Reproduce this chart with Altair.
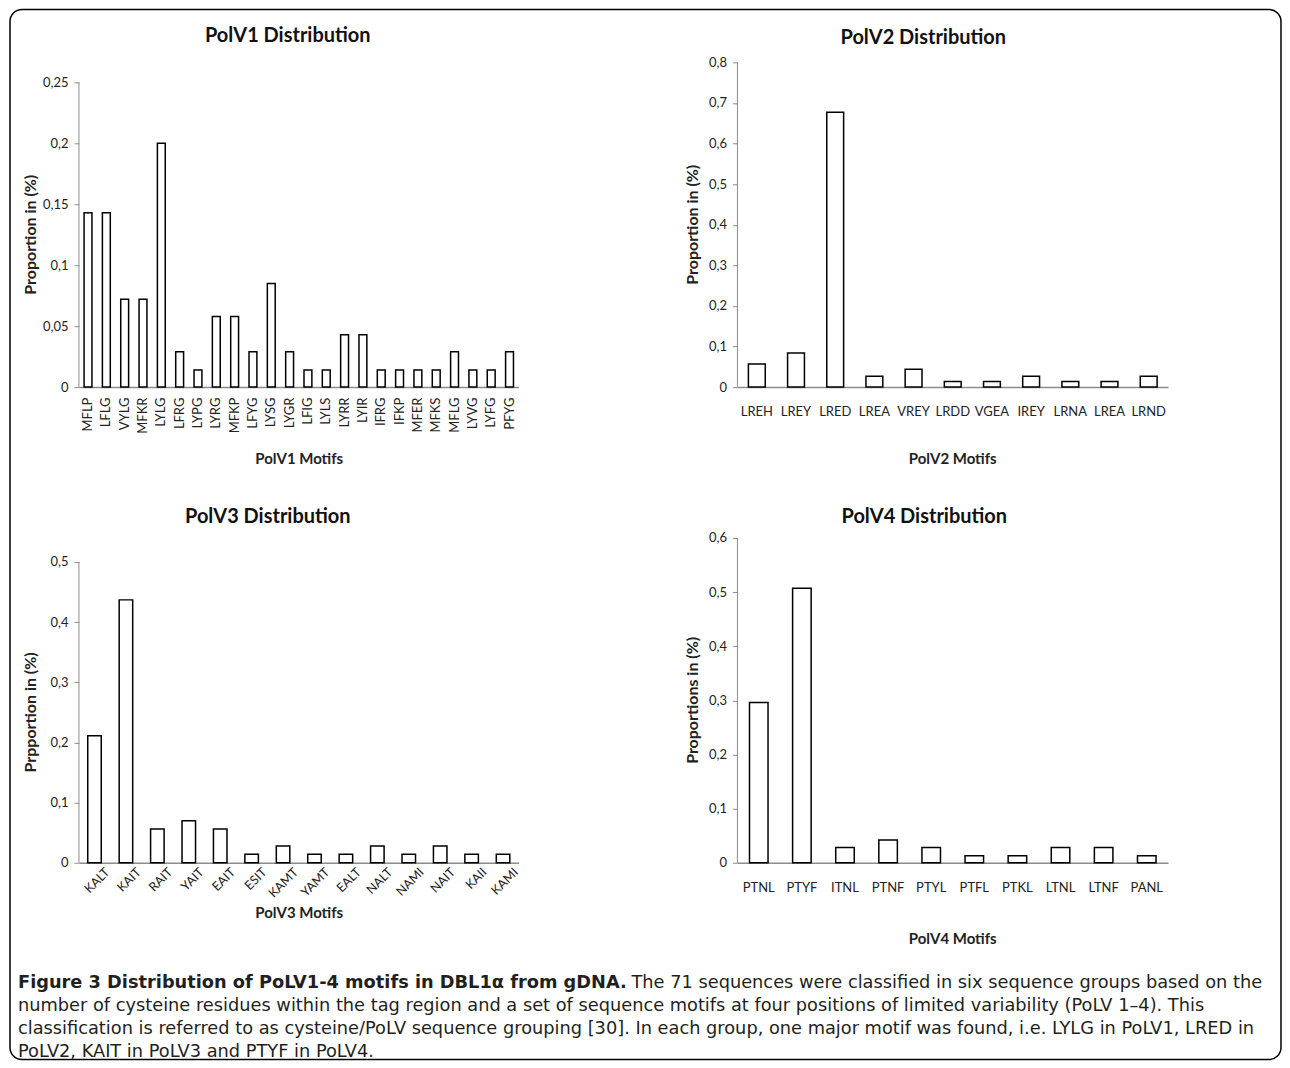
import altair as alt
import pandas as pd

# ---------------- data ----------------
p1_motifs = ["MFLP", "LFLG", "VYLG", "MFKR", "LYLG", "LFRG", "LYPG", "LYRG", "MFKP", "LFYG",
             "LYSG", "LYGR", "LFIG", "LYLS", "LYRR", "LYIR", "IFRG", "IFKP", "MFER", "MFKS",
             "MFLG", "LYVG", "LYFG", "PFYG"]
p1_values = [0.143, 0.143, 0.072, 0.072, 0.200, 0.029, 0.014, 0.058, 0.058, 0.029,
             0.085, 0.029, 0.014, 0.014, 0.043, 0.043, 0.014, 0.014, 0.014, 0.014,
             0.029, 0.014, 0.014, 0.029]

p2_motifs = ["LREH", "LREY", "LRED", "LREA", "VREY", "LRDD", "VGEA", "IREY", "LRNA", "LREA", "LRND"]
p2_values = [0.057, 0.084, 0.677, 0.027, 0.044, 0.014, 0.014, 0.027, 0.014, 0.014, 0.027]

p3_motifs = ["KALT", "KAIT", "RAIT", "YAIT", "EAIT", "ESIT", "KAMT", "YAMT", "EALT", "NALT",
             "NAMI", "NAIT", "KAII", "KAMI"]
p3_values = [0.211, 0.437, 0.056, 0.070, 0.056, 0.014, 0.028, 0.014, 0.014, 0.028,
             0.014, 0.028, 0.014, 0.014]

p4_motifs = ["PTNL", "PTYF", "ITNL", "PTNF", "PTYL", "PTFL", "PTKL", "LTNL", "LTNF", "PANL"]
p4_values = [0.296, 0.507, 0.028, 0.042, 0.028, 0.013, 0.013, 0.028, 0.028, 0.013]

p1_ticks = [0, 0.05, 0.1, 0.15, 0.2, 0.25]
p2_ticks = [0, 0.1, 0.2, 0.3, 0.4, 0.5, 0.6, 0.7, 0.8]
p3_ticks = [0, 0.05, 0.1, 0.15, 0.2, 0.25, 0.3, 0.35, 0.4, 0.45, 0.5]
p4_ticks = [0, 0.1, 0.2, 0.3, 0.4, 0.5, 0.6]

titles = ["PolV1 Distribution", "PolV2 Distribution", "PolV3 Distribution", "PolV4 Distribution"]
y_titles = ["Proportion in  (%)", "Proportion in  (%)", "Prpportion in  (%)", "Proportions in  (%)"]
x_titles = ["PolV1 Motifs", "PolV2 Motifs", "PolV3 Motifs", "PolV4 Motifs"]

cap_bold = "Figure 3 Distribution of PoLV1-4 motifs in DBL1\u03b1 from gDNA."
cap_rest1 = "The 71 sequences were classified in six sequence groups based on the"
cap_line2 = ("number of cysteine residues within the tag region and a set of sequence motifs at four "
             "positions of limited variability (PoLV 1\u20134). This")
cap_line3 = ("classification is referred to as cysteine/PoLV sequence grouping [30]. In each group, one "
             "major motif was found, i.e. LYLG in PoLV1, LRED in")
cap_line4 = "PoLV2, KAIT in PoLV3 and PTYF in PoLV4."

FONT = "Lato"
CAP_FONT = "DejaVu Sans"
CAP_SIZE = 17.8
AXIS_GRAY = "#8c8c8c"
H = 325


def panel(motifs, values, ticks, top, width, title, tx, ty,
          ytitle, ytx, yty, xtitle, xtx, xty,
          angle, lalign, lbase, lpad, loff, lsize=13):
    df = pd.DataFrame({"i": list(range(len(motifs))), "v": values})
    names = "[" + ",".join("'%s'" % m for m in motifs) + "]"
    x = alt.X(
        "i:O",
        scale=alt.Scale(paddingInner=0.57, paddingOuter=0.28),
        axis=alt.Axis(
            labelExpr=names + "[datum.value]",
            labelAngle=angle, labelAlign=lalign, labelBaseline=lbase,
            labelPadding=lpad, labelOffset=loff, labelFontSize=lsize, labelOverlap=False,
            ticks=False, domainColor=AXIS_GRAY, domainWidth=1.5,
            title=xtitle, titleX=xtx, titleY=xty, titleFontSize=15,
            titleFontWeight="bold", titleAlign="center", titleBaseline="middle",
        ),
    )
    y = alt.Y(
        "v:Q",
        scale=alt.Scale(domain=[0, top], nice=False),
        axis=alt.Axis(
            values=ticks,
            labelExpr="replace(toString(datum.value), '.', ',')",
            labelOverlap=False,
            domain=False, grid=False, tickSize=5, tickColor=AXIS_GRAY,
            labelPadding=6, labelFontSize=13,
            title=ytitle, titleX=ytx, titleY=yty, titleAngle=270,
            titleAlign="center", titleBaseline="middle",
            titleFontSize=16, titleFontWeight="bold",
        ),
    )
    bars = alt.Chart(df).mark_bar(fill="white", stroke="black", strokeWidth=1.5).encode(x=x, y=y)
    rule = alt.Chart(pd.DataFrame({"k": [0]})).mark_rule(color=AXIS_GRAY, strokeWidth=1).encode(
        x=alt.value(0), y=alt.datum(0), y2=alt.datum(ticks[-1])
    )
    ttl = alt.Chart(pd.DataFrame({"t": [title]})).mark_text(
        font=FONT, fontSize=20, fontWeight="bold", color="#111", align="center", baseline="middle"
    ).encode(text="t:N", x=alt.value(tx), y=alt.value(ty))
    return alt.layer(bars, rule, ttl).properties(width=width, height=H)


p1 = panel(p1_motifs, p1_values, p1_ticks, 0.25 * 325 / 305, 440, titles[0], 209, -26,
           y_titles[0], -48, 172, x_titles[0], 220, 71, 270, "right", "middle", 10, 0)
p2 = panel(p2_motifs, p2_values, p2_ticks, 0.8, 431, titles[1], 186, -24,
           y_titles[1], -45, 162, x_titles[1], 215, 71, 0, "center", "middle", 24, 0)
p3 = panel(p3_motifs, p3_values, p3_ticks, 0.5 * 325 / 301, 440, titles[2], 189, -21,
           y_titles[2], -48, 174, x_titles[2], 220, 50, 315, "right", "middle", 7, 13, 12.5)
p4 = panel(p4_motifs, p4_values, p4_ticks, 0.6, 431, titles[3], 187, -21,
           y_titles[3], -45, 162, x_titles[3], 215, 76, 0, "center", "middle", 25, 0)


def cap_text(txt, xv, yv, weight="normal"):
    return alt.Chart(pd.DataFrame({"t": [txt]})).mark_text(
        font=CAP_FONT, fontSize=CAP_SIZE, fontWeight=weight, color="#231f20",
        align="left", baseline="middle"
    ).encode(text="t:N", x=alt.value(xv), y=alt.value(yv))


border = alt.Chart(pd.DataFrame({"k": [0]})).mark_rect(
    fill="transparent", stroke="black", strokeWidth=1.5, cornerRadius=12
).encode(x=alt.value(-69), x2=alt.value(1203), y=alt.value(-1005), y2=alt.value(46))

caption = alt.layer(
    border,
    cap_text(cap_bold, -61, -31, "bold"),
    cap_text(cap_rest1, 553, -31),
    cap_text(cap_line2, -61, -8),
    cap_text(cap_line3, -61, 15),
    cap_text(cap_line4, -61, 38),
).properties(width=440, height=40)

chart = alt.concat(
    p1, p2, p3, p4, caption,
    columns=2,
    spacing={"row": 151, "column": 219},
    bounds="flush",
).properties(
    padding={"left": 1, "top": 0, "right": 0, "bottom": 0}
).configure_view(strokeWidth=0).configure_axis(
    labelFont=FONT, titleFont=FONT, labelColor="#222", titleColor="#222"
)

chart.save("out.html", embed_options={"renderer": "svg", "actions": False})
